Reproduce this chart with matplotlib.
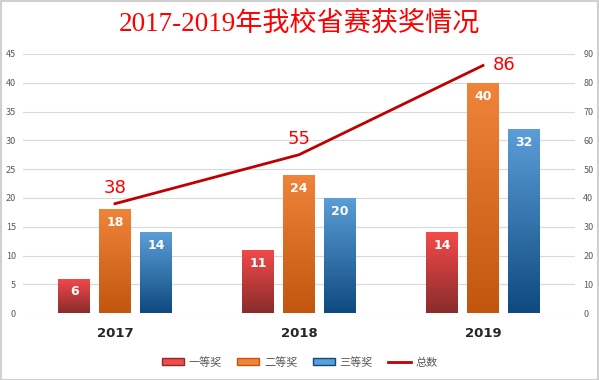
import matplotlib
matplotlib.use("Agg")
import matplotlib.pyplot as plt
import numpy as np
from matplotlib.colors import LinearSegmentedColormap
from matplotlib.patches import Rectangle, Patch
from matplotlib.lines import Line2D

plt.rcParams['font.family'] = ['Noto Sans CJK SC', 'DejaVu Sans']

years = ['2017', '2018', '2019']
first = [6, 11, 14]
second = [18, 24, 40]
third = [14, 20, 32]
total = [38, 55, 86]
series_names = ['一等奖', '二等奖', '三等奖', '总数']
title = '2017-2019年我校省赛获奖情况'

fig = plt.figure(figsize=(5.99, 3.80), dpi=100)
fig.patch.set_facecolor('white')
ax = fig.add_axes([0.0384, 0.176, 0.9215, 0.682])
ax2 = ax.twinx()

x = np.arange(len(years))
width = 0.173
offs = [-0.222, 0.0, 0.222]
grads = [('#f44a4a', '#8a2c2c'), ('#f0843a', '#c2560e'), ('#5c9ed8', '#0e4a80')]
data = [first, second, third]

for vals, off, (ctop, cbot) in zip(data, offs, grads):
    bars = ax.bar(x + off, vals, width, color='none', edgecolor='none', zorder=3)
    cmap = LinearSegmentedColormap.from_list('g', [cbot, ctop])
    grad = np.linspace(0, 1, 256).reshape(-1, 1)
    for b, v in zip(bars, vals):
        x0 = b.get_x(); w = b.get_width(); h = b.get_height()
        im = ax.imshow(grad, extent=(x0, x0 + w, 0, h), origin='lower', cmap=cmap,
                       aspect='auto', zorder=3)
        im.set_clip_path(b)
        ax.text(x0 + w / 2, h - 1.2, str(v), ha='center', va='top', color='white',
                fontsize=9, fontweight='bold', zorder=5, family='DejaVu Sans')

ax.set_xlim(-0.5, 2.5)
ax.set_ylim(0, 45)
ax.set_yticks(np.arange(0, 46, 5))
ax.set_xticks(x)
ax.set_xticklabels(years, fontsize=9.5, fontweight='bold', color='#262626', family='DejaVu Sans')
ax.tick_params(axis='x', length=0, pad=10)
ax.tick_params(axis='y', length=0, labelsize=6.5, labelcolor='#595959', pad=5)
ax.grid(axis='y', color='#d9d9d9', linewidth=0.8, zorder=0)
ax.set_axisbelow(True)
for s in ax.spines.values():
    s.set_visible(False)

ax2.set_ylim(0, 90)
ax2.set_yticks(np.arange(0, 91, 10))
ax2.tick_params(axis='y', length=0, labelsize=6.5, labelcolor='#595959', pad=6)
for s in ax2.spines.values():
    s.set_visible(False)
ax2.plot(x, total, color='#c00000', linewidth=2, zorder=6)
for i, (xi, t) in enumerate(zip(x, total)):
    if i == len(total) - 1:
        ax2.annotate(str(t), (xi, t), xytext=(7, 0), textcoords='offset points',
                     ha='left', va='center', color='#ff0000', fontsize=13, family='DejaVu Sans')
    else:
        ax2.annotate(str(t), (xi, t), xytext=(0, 5), textcoords='offset points',
                     ha='center', va='bottom', color='#ff0000', fontsize=13, family='DejaVu Sans')

fig.text(0.5, 0.937, title, ha='center', va='center', color='#ff0000', fontsize=19.5,
         family=['Liberation Serif', 'Noto Sans CJK SC'])

handles = [Patch(facecolor=g[0], edgecolor=g[1]) for g in grads]
handles.append(Line2D([0], [0], color='#c00000', linewidth=2))
fig.legend(handles, series_names, loc='center', bbox_to_anchor=(0.5, 0.047), ncol=4,
           frameon=False, fontsize=8, labelcolor='#595959', handlelength=2.0,
           handleheight=0.6, columnspacing=1.4, handletextpad=0.4)

fig.add_artist(Rectangle((0.001, 0.001), 0.997, 0.997, transform=fig.transFigure,
                         fill=False, edgecolor='#d0d0d0', linewidth=1.5))

fig.savefig('out.png', dpi=100)
